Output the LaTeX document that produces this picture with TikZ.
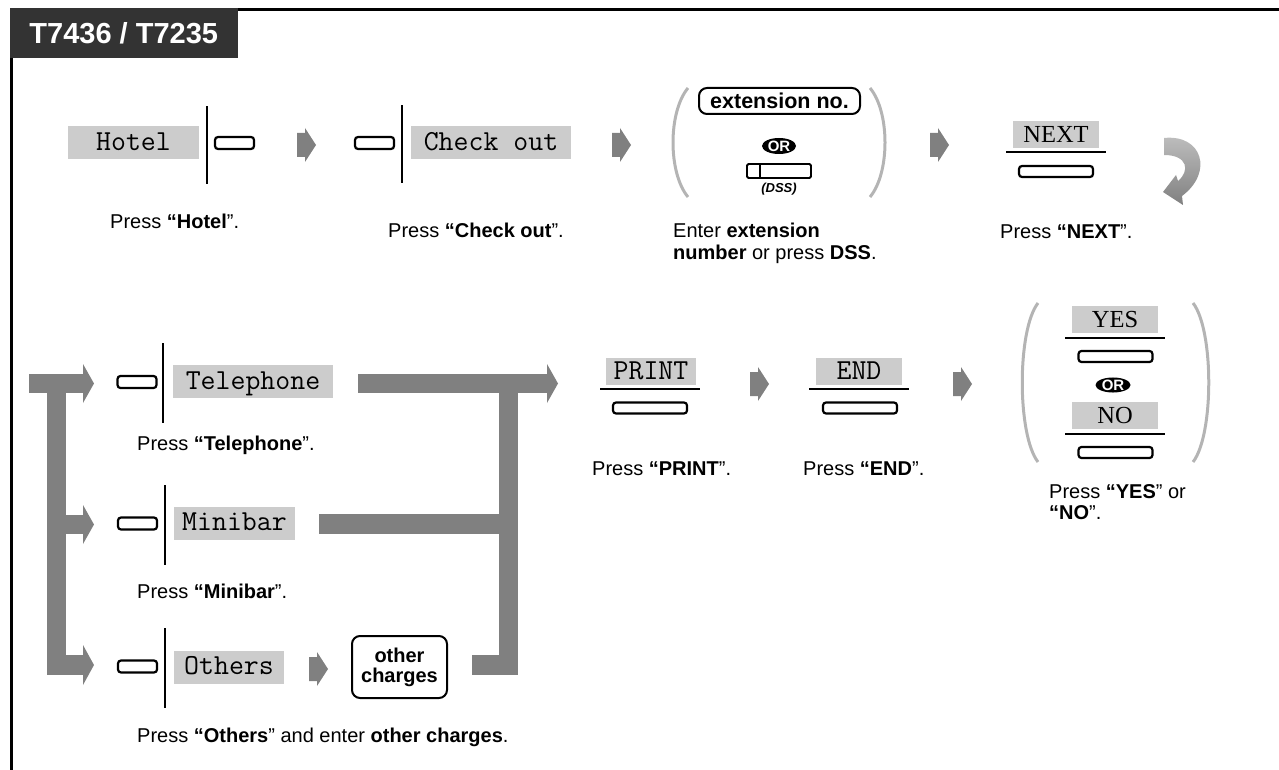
\documentclass[tikz,border=0pt]{standalone}
\usepackage{fontspec}
\setmainfont{Liberation Sans}
\newfontfamily\seriff{Liberation Serif}
\usetikzlibrary{shapes.geometric}
\definecolor{lblgray}{HTML}{CCCCCC}
\definecolor{arrgray}{HTML}{808080}
\definecolor{pargray}{HTML}{B4B4B4}
\definecolor{titlebg}{HTML}{333333}
\tikzset{
  steparrow/.pic={\fill[arrgray] (0,-12) -- (8,-12) -- (8,-17) -- (19,0) -- (8,17) -- (8,12) -- (0,12) -- cycle;},
  monolbl/.style={fill=lblgray, inner sep=0pt, minimum height=33pt, text height=15pt, text depth=0pt, font=\ttfamily\fontsize{29}{29}\selectfont},
  seriflbl/.style={fill=lblgray, inner sep=0pt, minimum height=27pt, minimum width=86pt, text height=16pt, text depth=0pt, font=\seriff\fontsize{24.5}{24.5}\selectfont},
  btn/.style={draw, line width=2.2pt, rounded corners=3pt, inner sep=0pt, minimum width=39pt, minimum height=12pt},
  wbtn/.style={btn, minimum width=74pt, minimum height=11pt},
  vbar/.style={fill=black, inner sep=0pt, minimum width=2pt, minimum height=80pt},
  hbar/.style={fill=black, inner sep=0pt, minimum width=100pt, minimum height=1.6pt},
  keybox/.style={draw, line width=2pt, rounded corners=8pt, inner sep=0pt, font=\bfseries\fontsize{20}{23}\selectfont, align=center},
  orbadge/.style={ellipse, fill=black, inner sep=0pt, minimum width=34pt, minimum height=16pt, text=white, font=\bfseries\fontsize{15}{15}\selectfont},
  dssbtn/.style={draw, line width=1.8pt, rounded corners=1.5pt, inner sep=0pt, minimum width=64pt, minimum height=14pt},
  captxt/.style={inner sep=0pt, anchor=base west, font=\fontsize{20}{24}\selectfont},
  parenline/.style={draw=pargray, line width=3pt},
}
\begin{document}
\begin{tikzpicture}[x=1pt,y=-1pt]
\useasboundingbox (0,0) rectangle (1279,770);
% frame
\draw[line width=3pt] (11,772) -- (11,10) -- (1281,10);
\node[fill=titlebg, inner sep=0pt, minimum width=228.5pt, minimum height=49.5pt, text=white, font=\bfseries\fontsize{29}{29}\selectfont] (title) at (123.75,33.25) {T7436 / T7235};

% ---- row 1
\node[monolbl, minimum width=131pt] (hotel) at (133.5,143) {Hotel};
\node[vbar, minimum height=78pt] (v1) at (207,145) {};
\node[btn] (b1) at (234.5,143) {};
\pic at (297,145) {steparrow};
\node[btn] (b2) at (374.5,143) {};
\node[vbar, minimum height=78pt] (v2) at (402,144) {};
\node[monolbl, minimum width=160pt] (chk) at (491,143) {Check out};
\pic at (612,145) {steparrow};
\draw[parenline] (688,88) .. controls (668,112) and (668,173) .. (688,197);
\draw[parenline] (870,88) .. controls (890,112) and (890,173) .. (870,197);
\node[keybox, minimum width=161pt, minimum height=26pt, font=\bfseries\fontsize{21.5}{23}\selectfont] (ext) at (779.5,101) {extension no.};
\node[orbadge] (or1) at (779,146) {OR};
\node[dssbtn] (dss) at (779,171) {};
\draw[line width=1.8pt] ([xshift=14pt]dss.north west) -- ([xshift=14pt]dss.south west);
\node[inner sep=0pt, font=\bfseries\itshape\fontsize{13}{13}\selectfont] (dsslbl) at (779,189) {(DSS)};
\pic at (930,145) {steparrow};
\node[seriflbl] (next) at (1056,134.5) {NEXT};
\node[hbar] (nextline) at (1056,152) {};
\node[wbtn] (nextbtn) at (1056,171.5) {};
% curved arrow
\shade[top color=gray!50, bottom color=arrgray]
  (1164,138) .. controls (1202,134) and (1214,172) .. (1182,196) -- (1183,205) -- (1163,192) -- (1176,175) -- (1178,181)
  .. controls (1190,171) and (1188,155) .. (1164,155) -- cycle;

% captions row 1
\node[captxt] (c1) at (110,229) {Press \textbf{“Hotel}”.};
\node[captxt] (c2) at (388,237) {Press \textbf{“Check out}”.};
\node[captxt] (c3a) at (673,237) {Enter \textbf{extension}};
\node[captxt] (c3b) at (673,259) {\textbf{number} or press \textbf{DSS}.};
\node[captxt] (c4) at (1000,238) {Press \textbf{“NEXT}”.};

% ---- row 2 left bracket arrows
\fill[arrgray] (29,374) rectangle (83,393);
\fill[arrgray] (83,364) -- (94,383.5) -- (83,403) -- cycle;
\fill[arrgray] (47,374) rectangle (66,675);
\fill[arrgray] (66,515) rectangle (83,534);
\fill[arrgray] (83,505) -- (94,524.5) -- (83,544) -- cycle;
\fill[arrgray] (47,655) rectangle (83,675);
\fill[arrgray] (83,645) -- (94,665) -- (83,685) -- cycle;

% telephone
\node[btn] (btel) at (137,382) {};
\node[vbar] (vtel) at (163,383) {};
\node[monolbl, minimum width=160pt] (tel) at (253,381.5) {Telephone};
\node[captxt] (ctel) at (137,450) {Press \textbf{“Telephone}”.};
% minibar
\node[btn] (bmini) at (137.5,523.5) {};
\node[vbar] (vmini) at (165,525) {};
\node[monolbl, minimum width=121pt] (mini) at (234.5,523) {Minibar};
\node[captxt] (cmini) at (137,598) {Press \textbf{“Minibar}”.};
% others
\node[btn] (both) at (137.5,666.5) {};
\node[vbar] (voth) at (165,668) {};
\node[monolbl, minimum width=110pt] (oth) at (229,667) {Others};
\pic at (309,669) {steparrow};
\node[keybox, minimum width=95pt, minimum height=62pt] (ochg) at (399.5,667) {other\\[-3pt]charges};
\node[captxt] (coth) at (137,742) {Press \textbf{“Others}” and enter \textbf{other charges}.};

% right bracket arrows
\fill[arrgray] (358,374) rectangle (547,393);
\fill[arrgray] (547,364) -- (558,383.5) -- (547,403) -- cycle;
\fill[arrgray] (499,374) rectangle (518,675);
\fill[arrgray] (319,514) rectangle (518,534);
\fill[arrgray] (472,655) rectangle (518,675);

% print / end
\node[seriflbl, font=\ttfamily\fontsize{29}{29}\selectfont, text height=15pt, minimum width=90pt] (print) at (651,371.5) {PRINT};
\node[hbar] (printline) at (649.5,389) {};
\node[wbtn] (printbtn) at (650,408) {};
\node[captxt] (cprint) at (592,475) {Press \textbf{“PRINT}”.};
\pic at (750,384) {steparrow};
\node[seriflbl, font=\ttfamily\fontsize{29}{29}\selectfont, text height=15pt] (endl) at (859,371.5) {END};
\node[hbar] (endline) at (859,389) {};
\node[wbtn] (endbtn) at (860,408) {};
\node[captxt] (cend) at (803,475) {Press \textbf{“END}”.};
\pic at (953,384) {steparrow};

% yes / no
\draw[parenline] (1038,303) .. controls (1017,330) and (1017,435) .. (1038,462);
\draw[parenline] (1193,303) .. controls (1214,330) and (1214,435) .. (1193,462);
\node[seriflbl] (yes) at (1115,319.5) {YES};
\node[hbar] (yesline) at (1115,338) {};
\node[wbtn] (yesbtn) at (1115.5,356.5) {};
\node[orbadge, minimum width=35pt, minimum height=15pt] (or2) at (1113,385) {OR};
\node[seriflbl] (no) at (1115,415.5) {NO};
\node[hbar] (noline) at (1115,434) {};
\node[wbtn] (nobtn) at (1115.5,452.5) {};
\node[captxt] (cyes) at (1049,498) {Press \textbf{“YES}” or};
\node[captxt] (cno) at (1049,519) {\textbf{“NO}”.};
\end{tikzpicture}
\end{document}
